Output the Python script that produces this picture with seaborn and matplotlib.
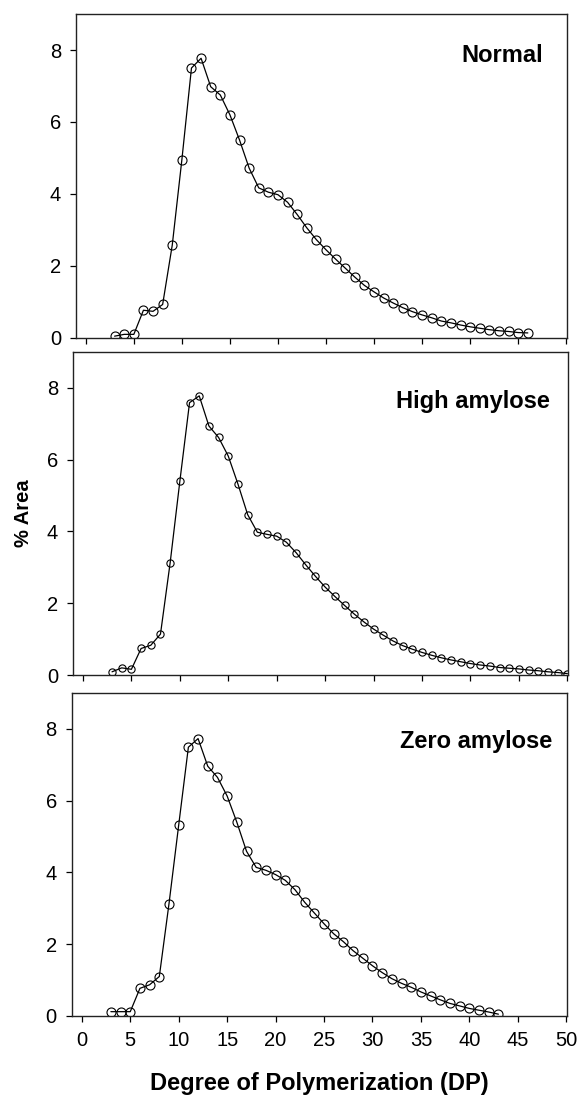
import pandas as pd
import seaborn as sns
import matplotlib
matplotlib.use('Agg')
import matplotlib.pyplot as plt

# chain length distributions (% area by degree of polymerization)
normal_dp = list(range(3, 47))
normal_area = [0.05, 0.1, 0.1, 0.77, 0.74, 0.93, 2.58, 4.95, 7.5, 7.77,
               6.98, 6.75, 6.2, 5.5, 4.72, 4.17, 4.05, 3.98, 3.77, 3.43,
               3.06, 2.73, 2.45, 2.19, 1.94, 1.69, 1.46, 1.28, 1.11, 0.97,
               0.84, 0.73, 0.64, 0.56, 0.47, 0.42, 0.36, 0.31, 0.27, 0.23,
               0.2, 0.18, 0.15, 0.14]

high_dp = list(range(3, 51))
high_area = [0.09, 0.2, 0.16, 0.74, 0.83, 1.14, 3.13, 5.4, 7.59, 7.78,
             6.94, 6.62, 6.1, 5.32, 4.47, 3.98, 3.92, 3.87, 3.7, 3.41,
             3.07, 2.75, 2.45, 2.19, 1.94, 1.7, 1.48, 1.28, 1.11, 0.95,
             0.82, 0.72, 0.63, 0.55, 0.48, 0.42, 0.37, 0.32, 0.28, 0.25,
             0.21, 0.19, 0.17, 0.14, 0.12, 0.09, 0.07, 0.04]

zero_dp = list(range(3, 44))
zero_area = [0.12, 0.12, 0.12, 0.77, 0.87, 1.1, 3.13, 5.32, 7.49, 7.73,
             6.96, 6.65, 6.13, 5.4, 4.59, 4.14, 4.06, 3.94, 3.78, 3.52,
             3.17, 2.87, 2.57, 2.29, 2.07, 1.82, 1.61, 1.4, 1.21, 1.04,
             0.91, 0.8, 0.67, 0.56, 0.45, 0.35, 0.28, 0.21, 0.16, 0.11,
             0.05]

panel_labels = ['Normal', 'High amylose', 'Zero amylose']
x_ticks = list(range(0, 51, 5))
y_ticks = [0, 2, 4, 6, 8]

sns.set_style('ticks')
plt.rcParams['font.family'] = ['Liberation Sans', 'DejaVu Sans']
plt.rcParams['text.color'] = 'black'
plt.rcParams['axes.labelcolor'] = 'black'

fig = plt.figure(figsize=(5.77, 11.03), dpi=100)
# axes boxes in figure fractions
boxes = [
    [0.132, 0.6936, 0.851, 0.2937],
    [0.127, 0.388, 0.858, 0.2928],
    [0.125, 0.0789, 0.858, 0.2928],
]
series = [(normal_dp, normal_area, 6.5), (high_dp, high_area, 5.2), (zero_dp, zero_area, 6.5)]
label_pos = [(0.95, 0.873), (0.962, 0.848), (0.97, 0.851)]

for i, (box, (dp, area, ms), label, (lx, ly)) in enumerate(zip(boxes, series, panel_labels, label_pos)):
    ax = fig.add_axes(box)
    df = pd.DataFrame({'dp': dp, 'area': area})
    sns.lineplot(data=df, x='dp', y='area', ax=ax, color='black', linewidth=0.9,
                 marker='o', markersize=ms, markerfacecolor='none',
                 markeredgecolor='black', markeredgewidth=0.8)
    ax.set_xlim(-1, 50.1)
    ax.set_ylim(0, 9)
    ax.set_xticks(x_ticks)
    ax.set_yticks(y_ticks)
    ax.tick_params(direction='out', length=4, width=0.9, labelsize=14.5, pad=7,
                   colors='black')
    for s in ax.spines.values():
        s.set_visible(True)
        s.set_linewidth(1.0)
        s.set_color('#222222')
    ax.set_xlabel('')
    ax.set_ylabel('')
    if i < 2:
        ax.tick_params(axis='x', labelbottom=False)
    ax.text(lx, ly, label, transform=ax.transAxes, ha='right', va='center',
            fontsize=17, fontweight='bold', color='black')
    if i == 1:
        ax.set_ylabel('% Area', fontsize=14.5, fontweight='bold', labelpad=10)
    if i == 2:
        ax.set_xlabel('Degree of Polymerization (DP)', fontsize=17,
                      fontweight='bold', labelpad=16)

fig.savefig('out.png', dpi=100)
